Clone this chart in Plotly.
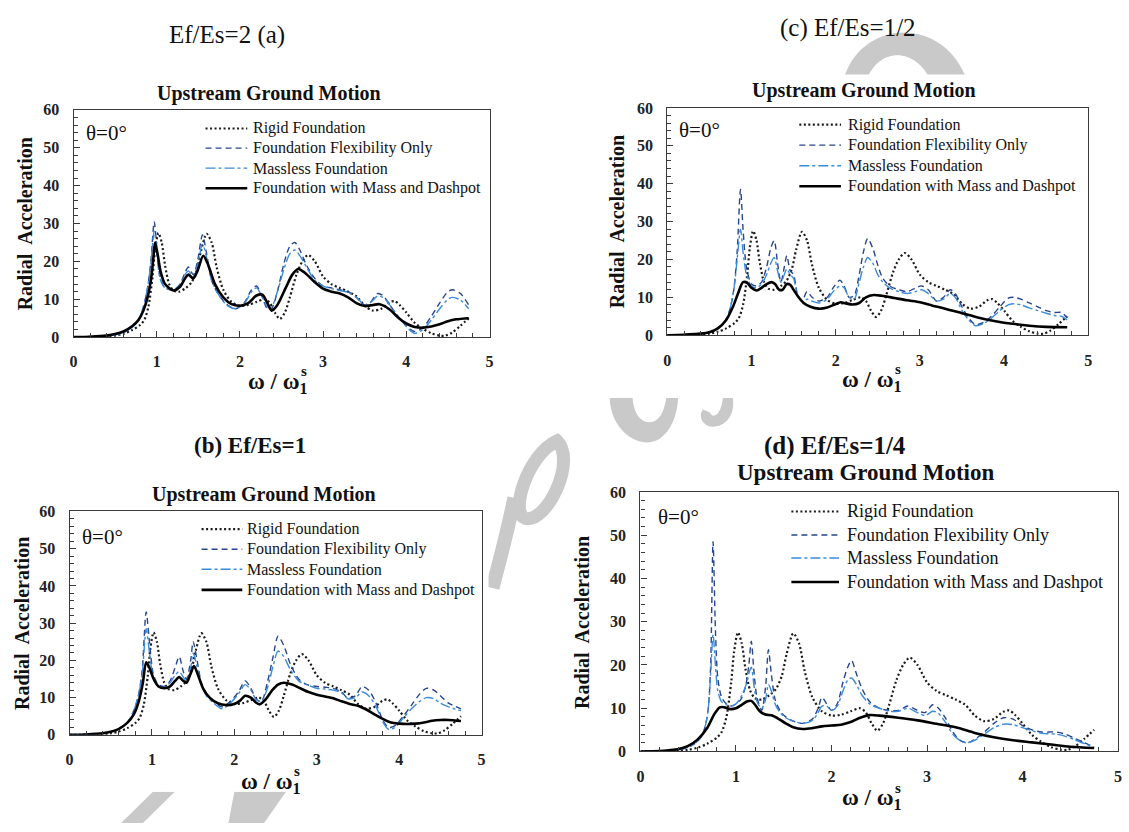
import re
import plotly.graph_objects as go

W, H = 1129, 832

# ---------------- data ----------------
X_RIGID = [0, 0.2, 0.4, 0.5, 0.6, 0.7, 0.8, 0.85, 0.9, 0.95, 0.98, 1.02, 1.06, 1.1, 1.15, 1.2, 1.27, 1.35, 1.42, 1.48,
           1.53, 1.6, 1.66, 1.72, 1.8, 1.9, 2.0, 2.1, 2.2, 2.3, 2.36, 2.42, 2.48, 2.54, 2.6, 2.68, 2.75, 2.82, 2.9, 3.0,
           3.1, 3.2, 3.3, 3.4, 3.5, 3.6, 3.7, 3.8, 3.86, 3.92, 4.0, 4.1, 4.2, 4.3, 4.4, 4.47, 4.55, 4.65, 4.75]
Y_RIGID = [0, 0.05, 0.2, 0.4, 0.9, 1.8, 3.2, 4.5, 8, 16, 23, 27.5, 25, 19, 14, 12.3, 12, 13, 14.5, 17.5,
           22.5, 27.3, 25, 18.5, 12.5, 9.3, 8.3, 8.5, 9.3, 10, 9, 6.5, 4.8, 6.5, 10.5, 16.5, 20, 21.7, 20, 16,
           14, 13, 12, 10.8, 8.3, 7, 7.5, 9.2, 9.5, 8.5, 6.5, 3.8, 2.2, 1, 0.4, 0.4, 1.2, 3, 5]

# (a) Ef/Es = 2
X_A = [0, 0.2, 0.4, 0.5, 0.6, 0.7, 0.78, 0.84, 0.89, 0.93, 0.97, 1.0, 1.04, 1.1, 1.2, 1.28, 1.34, 1.38, 1.44, 1.49,
       1.55, 1.6, 1.66, 1.75, 1.85, 1.95, 2.05, 2.14, 2.2, 2.26, 2.33, 2.38, 2.45, 2.53, 2.6, 2.66, 2.72, 2.8, 2.9,
       3.0, 3.1, 3.2, 3.3, 3.4, 3.5, 3.58, 3.65, 3.72, 3.8, 3.9, 4.0, 4.1, 4.2, 4.3, 4.4, 4.5, 4.56, 4.65, 4.75]
FLEX_A = [0, 0.05, 0.3, 0.6, 1.2, 2.5, 4.5, 8, 13, 20, 30.5, 24, 16, 13, 12.5, 14, 17, 18.5, 16.5, 20,
          27, 22, 15, 11, 8.5, 7.5, 9, 12.5, 13.5, 11, 7.5, 7.5, 12, 19.5, 24, 25, 23, 19, 15.5,
          13.5, 13, 12.5, 12, 10.5, 8.5, 9.5, 11.5, 11, 8.5, 5.5, 3, 1.5, 2.5, 5.5, 9, 12, 12.5, 11.5, 8.5]
MASSLESS_A = [0, 0.05, 0.3, 0.6, 1.2, 2.5, 4.5, 8, 13, 19.5, 28, 23, 15.5, 13, 12.5, 13.8, 16.5, 17.5, 16, 19,
              24.5, 21, 15, 11, 8.3, 7.5, 8.8, 12, 13, 11, 8, 8, 12, 18, 22, 23, 21.5, 18.5, 15,
              13.5, 12.8, 12.3, 11.8, 10.5, 8.5, 9.3, 10.8, 10.5, 8.5, 5.5, 2.8, 1, 2, 4.5, 7.5, 10, 10.5, 9.8, 7.5]
X_DASH_A = [0, 0.2, 0.4, 0.5, 0.6, 0.7, 0.78, 0.84, 0.89, 0.93, 0.96, 0.98, 1.01, 1.05, 1.1, 1.2, 1.28, 1.34, 1.38,
            1.44, 1.49, 1.56, 1.62, 1.7, 1.8, 1.9, 2.0, 2.1, 2.2, 2.27, 2.33, 2.38, 2.45, 2.55, 2.63, 2.7, 2.78,
            2.9, 3.0, 3.1, 3.2, 3.3, 3.4, 3.5, 3.6, 3.68, 3.8, 3.9, 4.0, 4.1, 4.2, 4.3, 4.4, 4.5, 4.6, 4.75]
DASH_A = [0, 0.1, 0.4, 0.8, 1.5, 2.8, 4.5, 7, 10.5, 15, 21, 25, 22, 17, 14, 12.3, 13.3, 15.5, 16.5,
          15.5, 17.5, 21.5, 19, 14, 10.5, 8.7, 8.3, 9, 11, 11.2, 9, 7, 8.5, 13, 16.5, 18, 17,
          14.5, 12.8, 12, 11.5, 10.5, 9, 8.2, 8.5, 8.7, 7.3, 5.2, 3.6, 2.7, 2.5, 2.8, 3.4, 4.2, 4.7, 5]

# (c) Ef/Es = 1/2
X_C = [0, 0.2, 0.4, 0.5, 0.6, 0.68, 0.74, 0.79, 0.83, 0.87, 0.9, 0.94, 1.0, 1.06, 1.12, 1.18, 1.23, 1.27, 1.31, 1.35,
       1.39, 1.42, 1.46, 1.5, 1.55, 1.6, 1.66, 1.72, 1.8, 1.9, 1.97, 2.05, 2.1, 2.16, 2.22, 2.28, 2.33, 2.38, 2.44,
       2.5, 2.56, 2.64, 2.75, 2.85, 2.95, 3.02, 3.1, 3.2, 3.28, 3.36, 3.42, 3.5, 3.58, 3.66, 3.75, 3.85, 3.95, 4.05,
       4.12, 4.2, 4.3, 4.4, 4.5, 4.6, 4.68, 4.75]
FLEX_C = [0, 0.1, 0.4, 0.8, 1.8, 3.5, 6.5, 12, 22, 38.5, 28, 18, 13.5, 13, 14, 18, 23, 25, 19, 14,
          18, 21, 17, 16, 10.5, 9, 11.5, 10, 9, 10, 12.5, 14.5, 13, 10, 10.5, 16, 22, 25.5, 23,
          18.5, 15, 13, 12, 11.5, 12.5, 13, 12, 9, 10, 12, 11, 7.5, 4.5, 2.8, 3.3, 5, 7.5, 9.8,
          10, 9.5, 8.5, 7.5, 6.5, 6, 6, 4.5]
MASSLESS_C = [0, 0.1, 0.4, 0.8, 1.8, 3.5, 6.5, 12, 20, 28, 22, 16, 13, 12.5, 13.5, 16, 19, 20.5, 17, 14,
              16, 17.5, 16, 15, 10.5, 9, 9.5, 9, 8.5, 9.5, 11.5, 13, 12.5, 10, 9.5, 14, 18, 20.5, 19,
              16, 14, 12.5, 11.5, 11, 11.5, 12, 11, 9, 9.5, 11, 10, 6.5, 4, 2.5, 3, 4.5, 6.5, 8,
              8.3, 8, 7.2, 6.5, 5.8, 5.2, 5, 4]
X_DASH_C = [0, 0.2, 0.4, 0.5, 0.6, 0.7, 0.78, 0.84, 0.9, 0.95, 1.0, 1.06, 1.12, 1.18, 1.24, 1.28, 1.33, 1.37, 1.42,
            1.46, 1.5, 1.56, 1.62, 1.7, 1.8, 1.9, 2.0, 2.06, 2.12, 2.2, 2.28, 2.36, 2.45, 2.55, 2.7, 2.85, 3.0,
            3.15, 3.3, 3.5, 3.7, 3.9, 4.1, 4.3, 4.5, 4.75]
DASH_C = [0, 0.1, 0.4, 0.8, 1.8, 4, 7.5, 11, 14, 13.8, 12.5, 11.8, 12.5, 13.5, 14, 13.5, 12, 12, 13.5,
          13.3, 12, 10, 8.5, 7.5, 7, 7.3, 8.2, 8.7, 8.4, 8.1, 8.5, 10, 10.6, 10.4, 9.8, 9.2, 8.7,
          7.8, 7, 5.8, 4.6, 3.7, 3, 2.5, 2.2, 2.1]

# (b) Ef/Es = 1
X_B = [0, 0.2, 0.4, 0.5, 0.6, 0.7, 0.77, 0.83, 0.88, 0.93, 0.97, 1.02, 1.08, 1.15, 1.22, 1.28, 1.33, 1.38, 1.42,
       1.47, 1.5, 1.54, 1.6, 1.66, 1.75, 1.85, 1.95, 2.05, 2.13, 2.2, 2.27, 2.33, 2.4, 2.47, 2.53, 2.6, 2.68, 2.78,
       2.88, 3.0, 3.1, 3.2, 3.3, 3.38, 3.47, 3.55, 3.63, 3.72, 3.8, 3.87, 3.95, 4.05, 4.15, 4.25, 4.33, 4.42, 4.5,
       4.6, 4.75]
FLEX_B = [0, 0.1, 0.4, 0.8, 1.7, 3.3, 6, 10, 17, 33, 25, 16, 13.5, 13, 14.5, 18, 21, 17, 15,
          20, 25, 21, 14, 11, 9, 7.5, 9, 11.5, 14.5, 12.5, 9.5, 9, 14, 21, 26.5, 24, 19, 15,
          13.5, 13, 12.8, 12.5, 11.5, 9.8, 10.5, 13, 12, 8.5, 4, 2, 2.5, 5, 8, 11, 12.5, 12, 10.5,
          8.5, 7]
MASSLESS_B = [0, 0.1, 0.4, 0.8, 1.7, 3.3, 6, 10, 16, 28.5, 22, 15, 13, 12.8, 14, 16, 17, 15.5, 14.5,
              18, 22, 19, 13.5, 10.5, 8.5, 7, 8.5, 11, 13.5, 12, 9.3, 9, 12.5, 18.5, 22.5, 21, 17.5, 14.5,
              13.5, 12.5, 12.3, 12, 11.3, 9.7, 10, 11.5, 10.5, 7.5, 3.5, 1.5, 2, 4.5, 7, 9, 10, 9.7, 8.5,
              7.5, 6.5]
X_DASH_B = [0, 0.2, 0.4, 0.5, 0.6, 0.7, 0.78, 0.84, 0.89, 0.93, 0.97, 1.02, 1.08, 1.15, 1.22, 1.28, 1.33, 1.38,
            1.42, 1.47, 1.51, 1.56, 1.62, 1.7, 1.8, 1.9, 2.0, 2.07, 2.13, 2.2, 2.26, 2.31, 2.38, 2.46, 2.53, 2.6,
            2.7, 2.8, 2.9, 3.0, 3.1, 3.2, 3.3, 3.4, 3.5, 3.6, 3.7, 3.8, 3.9, 4.0, 4.1, 4.2, 4.3, 4.4, 4.5, 4.6,
            4.75]
DASH_B = [0, 0.1, 0.4, 0.8, 1.6, 3.2, 5.5, 9, 14, 19.5, 18, 15, 13, 12.5, 13, 14.5, 15.5, 14.5,
          14, 16.5, 18.5, 16, 12.5, 10, 8.5, 8, 8.3, 9.2, 10.5, 10, 8.7, 8.2, 9.5, 12, 13.5, 14,
          13.5, 12.5, 11.5, 10.8, 10.3, 9.8, 9, 8.3, 7.8, 6.8, 5.5, 4.3, 3.3, 3, 2.9, 3, 3.3, 3.8, 4, 4,
          3.7]

# (d) Ef/Es = 1/4
X_D = [0, 0.2, 0.4, 0.5, 0.58, 0.64, 0.68, 0.71, 0.735, 0.76, 0.785, 0.81, 0.85, 0.9, 0.95, 1.0, 1.05, 1.1, 1.135,
       1.16, 1.19, 1.22, 1.27, 1.31, 1.34, 1.37, 1.41, 1.46, 1.52, 1.6, 1.7, 1.8, 1.86, 1.9, 1.95, 2.0, 2.06, 2.12,
       2.17, 2.21, 2.26, 2.32, 2.4, 2.5, 2.6, 2.7, 2.8, 2.9, 2.98, 3.06, 3.12, 3.2, 3.27, 3.35, 3.42, 3.5, 3.6,
       3.7, 3.8, 3.9, 4.0, 4.1, 4.2, 4.35, 4.45, 4.55, 4.65, 4.75]
FLEX_D = [0, 0.1, 0.4, 1, 2, 3.5, 6, 10, 20, 48.5, 28, 17, 12.5, 11, 10.5, 11, 12, 15, 20,
          25.5, 18, 12.5, 9.5, 15, 23.5, 18, 12, 9.5, 8, 7, 6.5, 7.5, 10, 12.5, 11, 9.5, 11, 16,
          19.5, 21, 18, 14.5, 11.5, 10, 9.5, 9.5, 10.5, 9.5, 9, 10.8, 10, 7.5, 4.5, 2.5, 2, 2.8, 4.5,
          6.5, 7.8, 7.5, 6, 5, 4.5, 4.5, 4, 3, 2, 1]
MASSLESS_D = [0, 0.1, 0.4, 1, 2, 3.5, 6, 10, 18, 27, 20, 14, 11.5, 10.8, 10.5, 11, 12.5, 15, 18,
              19.5, 15, 11.5, 10, 12, 15.5, 14, 11, 9, 7.8, 7, 6.5, 7.2, 9, 10.5, 10.5, 9.5, 10.5, 14,
              16.5, 17, 15.5, 13, 11, 10, 9.3, 9.3, 10, 9, 8.3, 9.3, 8.8, 6.5, 4, 2.5, 2, 2.6, 4,
              5.5, 6.3, 6.2, 5.5, 4.8, 4.2, 4, 3.5, 2.7, 1.8, 1]
X_DASH_D = [0, 0.2, 0.3, 0.4, 0.5, 0.6, 0.7, 0.77, 0.83, 0.88, 0.94, 1.0, 1.06, 1.12, 1.16, 1.2, 1.25, 1.3, 1.38,
            1.45, 1.52, 1.6, 1.7, 1.8, 1.9, 2.0, 2.1, 2.2, 2.3, 2.4, 2.5, 2.7, 2.9, 3.1, 3.3, 3.5, 3.7, 3.9, 4.1,
            4.3, 4.5, 4.75]
DASH_D = [0, 0.1, 0.3, 0.6, 1.3, 2.8, 5.5, 8.5, 10.2, 10.2, 9.8, 10, 10.8, 11.6, 11.7, 10.8, 9.3, 8.6, 8.3,
          7.5, 6.5, 5.6, 5.2, 5.4, 5.8, 6, 6.2, 6.8, 7.8, 8.4, 8.3, 7.8, 7.2, 6.4, 5.6, 4.3, 3.3, 2.6, 2.1,
          1.6, 1.1, 0.8]

SERIES_NAMES = ["Rigid Foundation", "Foundation Flexibility Only", "Massless Foundation",
                "Foundation with Mass and Dashpot"]
X_TICKS = [0, 1, 2, 3, 4, 5]
Y_TICKS = [0, 10, 20, 30, 40, 50, 60]

# ---------------- helpers ----------------
SERIF = '"Liberation Serif", "Times New Roman", Times, serif'
AXCOL = "#3a3a3a"
STYLES = [
    dict(color="#1a1a1a", width=2.2, dash="2px,2.5px"),
    dict(color="#27468f", width=1.4, dash="6px,4px"),
    dict(color="#3b8bdb", width=1.4, dash="10px,3px,3px,3px"),
    dict(color="black", width=2.6, dash="solid"),
]


def px(x):
    return x / W


def py(y):
    return 1 - y / H


def ppath(s):
    return re.sub(r"(-?\d+\.?\d*),(-?\d+\.?\d*)",
                  lambda m: f"{px(float(m.group(1))):.5f},{py(float(m.group(2))):.5f}", s)


# panel layout in pixels: left, right, top(60), bottom(0)
PANELS = {
    "a": dict(ax="", box=(70, 489, 104, 336), data=(X_A, FLEX_A, MASSLESS_A, X_DASH_A, DASH_A),
              legend=(203, 245, 249, [123, 143, 163.5, 184], 16), title=(267, 87, 20), ytitle=(21, 220),
              theta=(103, 128), xtitle=(280, 383)),
    "c": dict(ax="2", box=(668, 1092, 102, 334), data=(X_C, FLEX_C, MASSLESS_C, X_DASH_C, DASH_C),
              legend=(801, 843, 848, [119, 140, 161, 182], 16), title=(866, 84, 20), ytitle=(617, 218),
              theta=(700, 125), xtitle=(878, 381)),
    "b": dict(ax="3", box=(66, 481, 514, 742), data=(X_B, FLEX_B, MASSLESS_B, X_DASH_B, DASH_B),
              legend=(199, 240, 243, [532, 552.5, 573, 594], 16), title=(262, 497, 20), ytitle=(18, 628),
              theta=(99, 540), xtitle=(273, 791)),
    "d": dict(ax="4", box=(641, 1122, 494, 759), data=(X_D, FLEX_D, MASSLESS_D, X_DASH_D, DASH_D),
              legend=(793, 841, 847, [514, 538, 561.5, 586], 18), title=(868, 474, 23), ytitle=(582, 627),
              theta=(679, 520), xtitle=(878, 808)),
}

fig = go.Figure()
layout = dict(width=W, height=H, margin=dict(l=0, r=0, t=0, b=0, pad=0),
              font=dict(family=SERIF, color="#111"),
              paper_bgcolor="white", plot_bgcolor="rgba(0,0,0,0)", showlegend=False)
annotations = []
legend_shapes = []

for key, P in PANELS.items():
    ax = P["ax"]
    xa, ya = "x" + ax, "y" + ax
    l, r, t, b = P["box"]
    xd, flex, massless, xdash, dash = P["data"]
    series = [(X_RIGID, Y_RIGID), (xd, flex), (xd, massless), (xdash, dash)]
    for name, (sx, sy), st in zip(SERIES_NAMES, series, STYLES):
        fig.add_trace(go.Scatter(x=sx, y=sy, name=name, mode="lines", xaxis=xa, yaxis=ya,
                                 line=dict(shape="spline", smoothing=0.8, **st), hoverinfo="skip"))

    axis_common = dict(showline=True, mirror=True, linecolor=AXCOL, linewidth=1.3, showgrid=False,
                       zeroline=False, ticks="inside", tickcolor=AXCOL, tickwidth=1.2, ticklen=6,
                       tickfont=dict(family=SERIF, size=16, color="#222"), fixedrange=True)
    layout["xaxis" + ax] = dict(domain=[px(l), px(r)], range=[0, 5], anchor=ya, tickmode="array",
                                tickvals=X_TICKS, ticktext=[f"<b>{v}</b>" for v in X_TICKS], ticklabelstandoff=10,
                                minor=dict(ticks="inside", dtick=0.2, tick0=0, ticklen=4, tickcolor=AXCOL,
                                           tickwidth=1),
                                **axis_common)
    layout["yaxis" + ax] = dict(domain=[py(b), py(t)], range=[0, 60], anchor=xa, tickmode="array",
                                tickvals=Y_TICKS, ticktext=[f"<b>{v}</b>" for v in Y_TICKS], ticklabelstandoff=10,
                                minor=dict(ticks="inside", dtick=2, tick0=0, ticklen=4, tickcolor=AXCOL,
                                           tickwidth=1),
                                **axis_common)

    # legend drawn by hand: sample line + label per series
    s0, s1, tx0, rows, lfs = P["legend"]
    for name, st, ry in zip(SERIES_NAMES, STYLES, rows):
        legend_shapes.append(dict(type="line", x0=px(s0), x1=px(s1), y0=py(ry), y1=py(ry),
                                  line=dict(color=st["color"], width=st["width"], dash=st["dash"]),
                                  layer="above"))
        annotations.append(dict(x=px(tx0), y=py(ry), xanchor="left", text=name,
                                font=dict(family=SERIF, size=lfs, color="#111")))

    tx, ty, tfs = P["title"]
    annotations.append(dict(x=px(tx), y=py(ty), text="<b>Upstream Ground Motion</b>",
                            font=dict(family=SERIF, size=tfs, color="#111")))
    yx, yy = P["ytitle"]
    annotations.append(dict(x=px(yx), y=py(yy), text="<b>Radial  Acceleration</b>", textangle=-90,
                            font=dict(family=SERIF, size=20, color="#111")))
    thx, thy = P["theta"]
    annotations.append(dict(x=px(thx), y=py(thy), text="θ=0°",
                            font=dict(family=SERIF, size=21, color="#111")))
    xx, xy = P["xtitle"]
    annotations.append(dict(x=px(xx - 36), y=py(xy), xanchor="left", text="<b>ω / ω<sub>1</sub></b>",
                            font=dict(family=SERIF, size=23, color="#111")))
    annotations.append(dict(x=px(xx + 17), y=py(xy - 12), xanchor="left", text="<b>s</b>",
                            font=dict(family=SERIF, size=15, color="#111")))

# panel headers
annotations += [
    dict(x=px(225), y=py(28), text="Ef/Es=2 (a)", font=dict(family=SERIF, size=25, color="#111")),
    dict(x=px(850), y=py(20), text="(c) Ef/Es=1/2", font=dict(family=SERIF, size=25, color="#111")),
    dict(x=px(248), y=py(447), text="<b>(b) Ef/Es=1</b>", font=dict(family=SERIF, size=23, color="#111")),
    dict(x=px(837), y=py(447), text="<b>(d) Ef/Es=1/4</b>", font=dict(family=SERIF, size=25, color="#111")),
]
for a in annotations:
    a.update(xref="paper", yref="paper", showarrow=False, xanchor=a.get("xanchor", "center"),
             yanchor="middle")

# watermark fragments (light grey), then white chart backgrounds that hide them
WM = "#c9c9c9"
shapes = [
    dict(type="path", path=ppath("M845,76 C858,14 945,2 971,76 L934,76 C920,40 880,38 868,76 Z"),
         fillcolor=WM, line=dict(width=0)),
    dict(type="path", path=ppath("M610,398 C611,432 640,452 660,440 C672,432 678,416 679,398 L667,398 "
                                 "C665,412 660,423 650,423 C640,423 634,412 633,398 Z"),
         fillcolor=WM, line=dict(width=0)),
    dict(type="path", path=ppath("M724,398 L734,398 C737,418 724,430 710,427 C701,424 700,414 704,410 "
                                 "L711,413 C713,419 722,418 724,398 Z"),
         fillcolor=WM, line=dict(width=0)),
    dict(type="path", path=ppath("M557,442 C577,462 547,526 525,521 C509,516 527,456 557,442 Z"),
         fillcolor="rgba(0,0,0,0)", line=dict(color=WM, width=13)),
    dict(type="path", path=ppath("M514,500 C506,540 498,568 492,592"),
         line=dict(color=WM, width=14)),
    dict(type="path", path=ppath("M118,832 L150,800 L172,800 L140,832 Z"), fillcolor=WM, line=dict(width=0)),
    dict(type="path", path=ppath("M232,800 L284,800 L262,832 L226,832 Z"), fillcolor=WM, line=dict(width=0)),
]
for (x0, y0, x1, y1) in [(0, 68, 530, 405), (588, 68, W, 398), (0, 480, 488, 800), (572, 458, W, H)]:
    shapes.append(dict(type="rect", x0=px(x0), x1=px(x1), y0=py(y1), y1=py(y0), fillcolor="white",
                       line=dict(width=0)))
for s in shapes:
    s.update(layer="below")
shapes += legend_shapes
for s in shapes:
    s.update(xref="paper", yref="paper")

layout["annotations"] = annotations
layout["shapes"] = shapes
fig.update_layout(**layout)

fig.write_html("out.html")
